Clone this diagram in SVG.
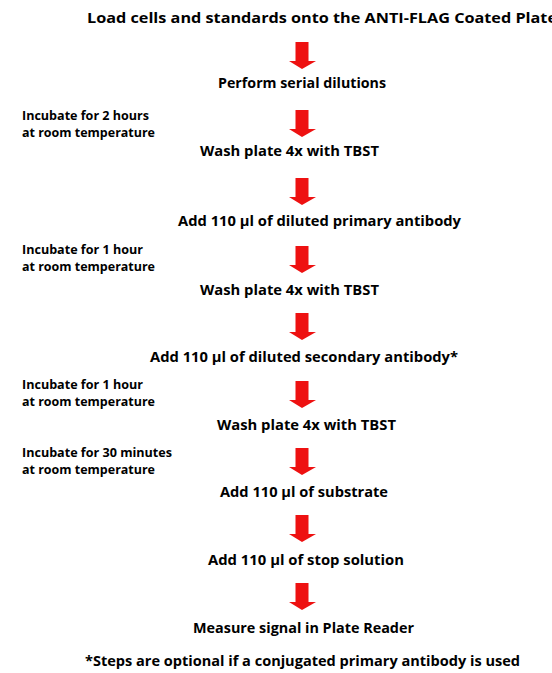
<svg xmlns="http://www.w3.org/2000/svg" xmlns:xlink="http://www.w3.org/1999/xlink" width="552" height="673" viewBox="0 0 552 673">
<defs>
<style>
.step{font-family:"Open Sans","Noto Sans",Arial,sans-serif;font-weight:bold;font-size:14.5px;fill:#000}
.side{font-family:"Open Sans","Noto Sans",Arial,sans-serif;font-weight:bold;font-size:12px;fill:#000}
.arr{fill:#ee1111}
</style>
<path id="arrow" d="M295.5,0 H308.5 V19 H316 L302,27 L289,19 H295.5 Z"/>
</defs>
<rect width="552" height="673" fill="#fff"/>
<g id="connectors" class="arr">
<use xlink:href="#arrow" y="42"/>
<use xlink:href="#arrow" y="110"/>
<use xlink:href="#arrow" y="178"/>
<use xlink:href="#arrow" y="246"/>
<use xlink:href="#arrow" y="313"/>
<use xlink:href="#arrow" y="381"/>
<use xlink:href="#arrow" y="448"/>
<use xlink:href="#arrow" y="515"/>
<use xlink:href="#arrow" y="583"/>
</g>
<g id="n1"><text class="step" x="87" y="23" textLength="470" lengthAdjust="spacingAndGlyphs">Load cells and standards onto the ANTI-FLAG Coated Plate</text></g>
<g id="n2"><text class="step" x="218" y="88" textLength="168" lengthAdjust="spacingAndGlyphs">Perform serial dilutions</text></g>
<g id="n3"><text class="step" x="200" y="156" textLength="179" lengthAdjust="spacingAndGlyphs">Wash plate 4x with TBST</text></g>
<g id="n4"><text class="step" x="178" y="226" textLength="283" lengthAdjust="spacingAndGlyphs">Add 110 µl of diluted primary antibody</text></g>
<g id="n5"><text class="step" x="200" y="295" textLength="179" lengthAdjust="spacingAndGlyphs">Wash plate 4x with TBST</text></g>
<g id="n6"><text class="step" x="150" y="362" textLength="308" lengthAdjust="spacingAndGlyphs">Add 110 µl of diluted secondary antibody*</text></g>
<g id="n7"><text class="step" x="217" y="430" textLength="179" lengthAdjust="spacingAndGlyphs">Wash plate 4x with TBST</text></g>
<g id="n8"><text class="step" x="220" y="497" textLength="168" lengthAdjust="spacingAndGlyphs">Add 110 µl of substrate</text></g>
<g id="n9"><text class="step" x="208" y="565" textLength="196" lengthAdjust="spacingAndGlyphs">Add 110 µl of stop solution</text></g>
<g id="n10"><text class="step" x="193" y="633" textLength="221" lengthAdjust="spacingAndGlyphs">Measure signal in Plate Reader</text></g>
<g id="note"><text class="step" x="85" y="666" textLength="435" lengthAdjust="spacingAndGlyphs">*Steps are optional if a conjugated primary antibody is used</text></g>
<g id="inc1"><text class="side" x="22" y="120" textLength="127" lengthAdjust="spacingAndGlyphs">Incubate for 2 hours</text><text class="side" x="22" y="137" textLength="133" lengthAdjust="spacingAndGlyphs">at room temperature</text></g>
<g id="inc2"><text class="side" x="22" y="254" textLength="121" lengthAdjust="spacingAndGlyphs">Incubate for 1 hour</text><text class="side" x="22" y="271" textLength="133" lengthAdjust="spacingAndGlyphs">at room temperature</text></g>
<g id="inc3"><text class="side" x="22" y="389" textLength="121" lengthAdjust="spacingAndGlyphs">Incubate for 1 hour</text><text class="side" x="22" y="406" textLength="133" lengthAdjust="spacingAndGlyphs">at room temperature</text></g>
<g id="inc4"><text class="side" x="22" y="457" textLength="150" lengthAdjust="spacingAndGlyphs">Incubate for 30 minutes</text><text class="side" x="22" y="474" textLength="133" lengthAdjust="spacingAndGlyphs">at room temperature</text></g>
</svg>
